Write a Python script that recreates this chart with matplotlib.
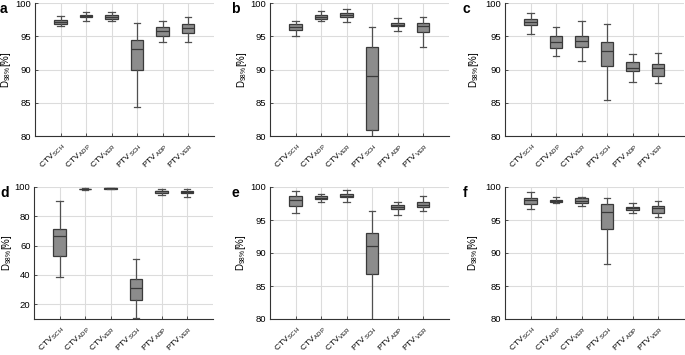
import matplotlib
matplotlib.use("Agg")
import matplotlib.pyplot as plt
import matplotlib.transforms as mtransforms

plt.rcParams['font.family'] = ['Liberation Sans', 'DejaVu Sans']
plt.rcParams['mathtext.fontset'] = 'custom'
plt.rcParams['mathtext.rm'] = 'Liberation Sans'
plt.rcParams['mathtext.it'] = 'Liberation Sans'
plt.rcParams['mathtext.default'] = 'rm'

categories = [r'CTV$_{\,\mathrm{SCH}}$', r'CTV$_{\,\mathrm{ADP}}$', r'CTV$_{\,\mathrm{VER}}$',
              r'PTV$_{\,\mathrm{SCH}}$', r'PTV$_{\,\mathrm{ADP}}$', r'PTV$_{\,\mathrm{VER}}$']
panel_letters = ['a', 'b', 'c', 'd', 'e', 'f']

# per panel: whisker low, q1, median, q3, whisker high (for the 6 categories)
a_lo  = [96.6, 97.4, 97.4, 84.4, 94.2, 94.2]
a_q1  = [96.9, 97.9, 97.7, 90.0, 95.1, 95.5]
a_med = [97.2, 98.1, 98.0, 93.1, 95.9, 96.3]
a_q3  = [97.5, 98.3, 98.3, 94.5, 96.4, 96.9]
a_hi  = [98.1, 98.7, 98.7, 97.1, 97.3, 97.9]

b_lo  = [95.0, 97.3, 97.2, 78.0, 95.8, 93.4]
b_q1  = [96.0, 97.7, 97.9, 80.9, 96.6, 95.6]
b_med = [96.5, 98.0, 98.2, 89.1, 96.8, 96.6]
b_q3  = [96.9, 98.3, 98.5, 93.4, 97.1, 97.0]
b_hi  = [97.4, 98.8, 99.1, 96.4, 97.8, 98.0]

c_lo  = [95.4, 92.1, 91.3, 85.4, 88.2, 88.0]
c_q1  = [96.8, 93.3, 93.4, 90.5, 89.8, 89.1]
c_med = [97.2, 94.2, 94.3, 92.8, 90.2, 90.2]
c_q3  = [97.6, 95.1, 95.1, 94.1, 91.1, 90.8]
c_hi  = [98.6, 96.4, 97.4, 96.9, 92.4, 92.5]

d_lo  = [38.3, 98.0, 98.6, 10.8, 94.8, 93.2]
d_q1  = [53.2, 98.3, 98.9, 22.7, 96.0, 95.6]
d_med = [66.5, 98.5, 99.1, 30.9, 97.0, 96.7]
d_q3  = [71.5, 98.7, 99.3, 37.2, 97.6, 97.5]
d_hi  = [90.4, 99.0, 99.6, 51.0, 98.6, 98.6]

e_lo  = [96.1, 97.8, 97.8, 75.0, 95.8, 96.3]
e_q1  = [97.1, 98.2, 98.5, 86.8, 96.6, 96.9]
e_med = [98.1, 98.4, 98.7, 91.0, 96.9, 97.2]
e_q3  = [98.6, 98.6, 99.0, 93.0, 97.3, 97.7]
e_hi  = [99.4, 99.0, 99.6, 96.4, 97.7, 98.7]

f_lo  = [96.6, 97.6, 97.1, 88.4, 96.0, 95.5]
f_q1  = [97.5, 97.7, 97.6, 93.6, 96.5, 96.0]
f_med = [98.0, 97.9, 97.9, 96.2, 96.8, 96.8]
f_q3  = [98.4, 98.1, 98.3, 97.4, 97.0, 97.1]
f_hi  = [99.3, 98.5, 98.5, 98.3, 97.6, 97.9]

panels = [
    (a_lo, a_q1, a_med, a_q3, a_hi),
    (b_lo, b_q1, b_med, b_q3, b_hi),
    (c_lo, c_q1, c_med, c_q3, c_hi),
    (d_lo, d_q1, d_med, d_q3, d_hi),
    (e_lo, e_q1, e_med, e_q3, e_hi),
    (f_lo, f_q1, f_med, f_q3, f_hi),
]
ylims = [(80, 100)] * 3 + [(10, 100), (80, 100), (80, 100)]
yticks = [[80, 85, 90, 95, 100]] * 3 + [[20, 40, 60, 80, 100], [80, 85, 90, 95, 100], [80, 85, 90, 95, 100]]

W, H = 685, 355
fig = plt.figure(figsize=(W / 100, H / 100), dpi=100)

lefts_px = [35, 270, 505, 34, 270, 505]
tops_px = [3.3, 3.3, 3.3, 187, 187, 187]
bottoms_px = [136, 136, 136, 319, 319, 319]
width_px = 178.5
ylab_x = [-0.122, -0.118, -0.134, -0.112, -0.123, -0.14]
letter_px = [(0, 2), (231, 2), (462, 2), (0, 186), (232, 186), (463, 186)]

edge = '#3a3a3a'
shift = mtransforms.ScaledTranslation(0.045, 0.01, fig.dpi_scale_trans)
for i, (lo, q1, med, q3, hi) in enumerate(panels):
    l, t, b = lefts_px[i], tops_px[i], bottoms_px[i]
    ax = fig.add_axes([l / W, (H - b) / H, width_px / W, (b - t) / H])
    stats = []
    for k in range(len(categories)):
        stats.append(dict(whislo=lo[k], q1=q1[k], med=med[k], q3=q3[k], whishi=hi[k], fliers=[]))
    ax.bxp(stats, positions=range(1, 7), widths=0.5, patch_artist=True, showfliers=False,
           boxprops=dict(facecolor='#8c8c8c', edgecolor=edge, linewidth=0.9),
           medianprops=dict(color=edge, linewidth=0.9),
           whiskerprops=dict(color='#505050', linewidth=0.9),
           capprops=dict(color='#505050', linewidth=0.9),
           capwidths=0.25)
    ax.set_xlim(0, 7)
    ax.set_ylim(*ylims[i])
    ax.set_yticks(yticks[i])
    ax.set_xticks(range(1, 7))
    ax.set_xticklabels(categories, rotation=45, ha='right', va='top', rotation_mode='anchor')
    for lab in ax.get_xticklabels():
        lab.set_transform(lab.get_transform() + shift)
    ax.grid(True, color='#dcdcdc', linewidth=0.8)
    ax.set_axisbelow(True)
    for s in ['top', 'right']:
        ax.spines[s].set_visible(False)
    for s in ['left', 'bottom']:
        ax.spines[s].set_color('#333333')
        ax.spines[s].set_linewidth(0.8)
    ax.tick_params(axis='both', direction='in', length=2, width=0.6, color='#333333',
                   labelsize=6.8, pad=2.5)
    ax.tick_params(axis='x', pad=4, labelsize=6.1)
    ax.set_ylabel(r'D$_{98\%}$[%]', fontsize=7)
    ax.yaxis.set_label_coords(ylab_x[i], 0.5)
    lx, ly = letter_px[i]
    fig.text(lx / W, 1 - ly / H, panel_letters[i], fontsize=10, fontweight='bold',
             ha='left', va='top')

fig.savefig('out.png', dpi=100)
